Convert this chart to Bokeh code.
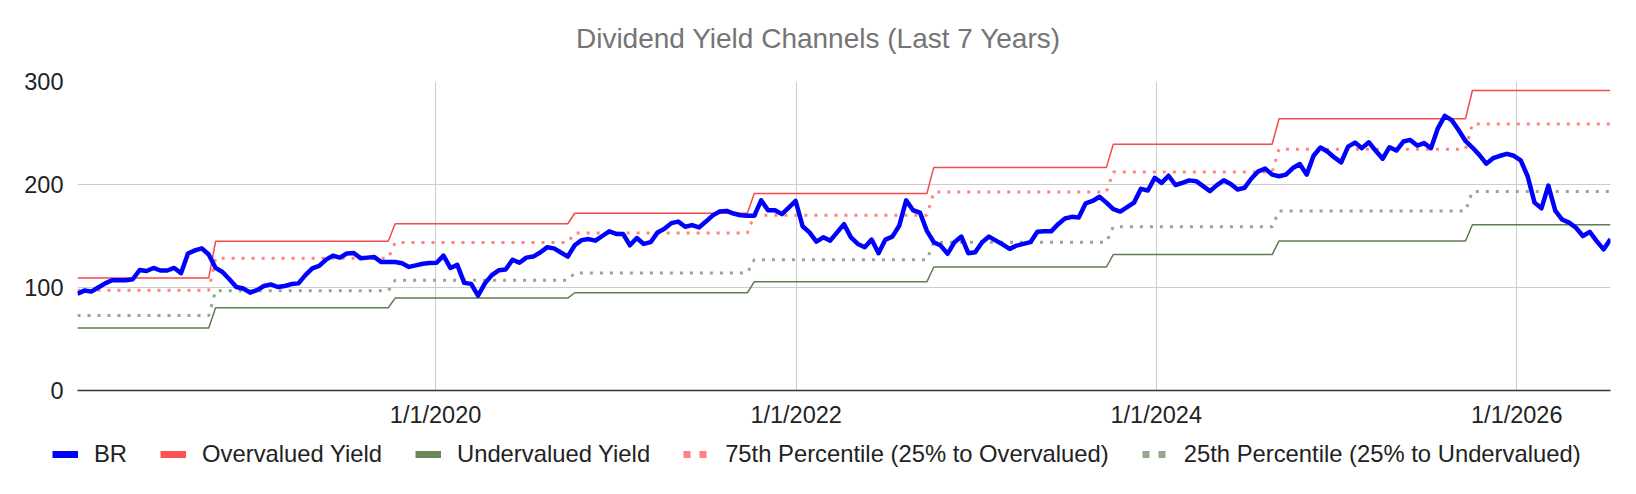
import numpy as np
import pandas as pd
from bokeh.plotting import figure
from bokeh.layouts import column, row
from bokeh.models import (ColumnDataSource, Range1d, FixedTicker, CustomJSTickFormatter,
                          Legend, LegendItem, Label)
from bokeh.embed import file_html
from bokeh.resources import INLINE

TITLE = "Dividend Yield Channels (Last 7 Years)"
START_DATE = "2018-01-05"   # biweekly observations

br_values = [
    94, 97, 96, 100, 104, 107, 107, 107, 108, 117,
    116, 119, 116.5, 116.5, 119, 114, 133, 136, 138, 132,
    119, 115, 108, 100.5, 99, 95, 97.5, 101.5, 103, 100.5,
    101.5, 103.3, 104, 112, 118.5, 121, 127, 131, 129, 133,
    133.5, 128.5, 129, 129.5, 124.7, 124.7, 124.7, 123.5, 120, 121.5,
    123, 123.7, 124, 131, 119, 122, 104.5, 103.5, 92, 104,
    112, 116.7, 117.5, 127, 124, 129, 130, 134, 139, 138,
    134, 130, 141, 146, 147, 145.5, 150, 154.5, 152, 152,
    141, 148, 142.3, 144, 153.5, 157, 162.5, 164, 159, 160.6,
    158.3, 164, 170, 173.7, 174.4, 171.8, 170.2, 169.6, 169.6, 184.6,
    175, 175, 171.2, 177.6, 184, 159.5, 153.5, 144.5, 148.7, 145.5,
    153.5, 161.5, 148.7, 142.3, 139.1, 146.5, 133.3, 146.5, 149.4, 160,
    184.6, 175, 172.8, 155, 144, 140.7, 132.7, 144, 149.4, 133.3,
    134.3, 144, 149.4, 145.5, 141.7, 137.5, 140.7, 142.3, 144, 154.2,
    154.5, 154.5, 161.5, 167, 168.6, 168, 181.7, 184, 188.1, 182.4,
    176, 173.7, 178, 182.4, 195.8, 194.2, 206.4, 201.6, 208.5, 199.5,
    201.6, 204, 203.2, 198.4, 193.6, 199.4, 204, 200.6, 195.2, 196.8,
    205.8, 212.8, 215.4, 209.6, 208, 209.6, 216, 219.9, 209.6, 227.9,
    235.9, 232, 226.3, 221.5, 236.8, 240.7, 235.3, 241, 232.7, 225,
    236.2, 233, 241.7, 243.3, 237.8, 240.2, 235.3, 254.5, 266.7, 262.5,
    252.9, 242.3, 235.9, 228.8, 220.2, 225.6, 227.9, 229.8, 227.9, 223.4,
    208, 182.4, 176.9, 199, 174.6, 166, 163, 158, 150, 154,
    145, 137, 147,
]

level_start_dates = ["2018-01-05", "2018-10-12", "2019-10-11", "2020-10-09", "2021-10-08",
                     "2022-10-07", "2023-10-06", "2024-09-06", "2025-10-03"]
overvalued_levels = [109.3, 144.9, 161.9, 172.1, 191.3, 216.6, 239.1, 263.8, 291.3]
p75_levels = [97.4, 128.5, 143.6, 152.9, 170.2, 192.6, 212.2, 234.3, 258.7]
p25_levels = [72.8, 96.8, 107.0, 114.1, 126.9, 143.9, 159.0, 174.3, 193.3]
undervalued_levels = [60.6, 80.4, 89.7, 94.9, 105.5, 119.9, 132.0, 145.2, 160.9]

x_tick_dates = ["2020-01-01", "2022-01-01", "2024-01-01", "2026-01-01"]
y_ticks = [0, 100, 200, 300]

series_names = ["BR", "Overvalued Yield", "Undervalued Yield",
                "75th Percentile (25% to Overvalued)", "25th Percentile (25% to Undervalued)"]
FONT = "Liberation Sans"
W = 1636
LEFT, RIGHT = 77, 26

RED = "#f24b4b"
GREEN = "#5f7d52"
PINK = "#ff8383"
SAGE = "#94a88b"
BLUE = "#0000ff"

dates = pd.date_range(START_DATE, periods=len(br_values), freq="14D")
seg = np.searchsorted(pd.to_datetime(level_start_dates).values, dates.values, side="right") - 1
src = ColumnDataSource(dict(
    date=dates,
    br=br_values,
    over=np.array(overvalued_levels)[seg],
    under=np.array(undervalued_levels)[seg],
    p75=np.array(p75_levels)[seg],
    p25=np.array(p25_levels)[seg],
))


def blank_fig(height, left, right):
    f = figure(width=W, height=height, output_backend="svg", toolbar_location=None,
               x_range=Range1d(left, W - right), y_range=Range1d(0, height),
               x_axis_location=None, y_axis_location=None,
               min_border_left=left, min_border_right=right,
               min_border_top=0, min_border_bottom=0)
    f.grid.visible = False
    f.outline_line_color = None
    return f


# ---- header with title ----
HEAD_H = 60
head = blank_fig(HEAD_H, LEFT, RIGHT)
head.add_layout(Label(x=W / 2, y=HEAD_H - 38, text=TITLE, text_align="center",
                      text_baseline="middle", text_font=FONT, text_font_size="28px",
                      text_color="#757575"))

# ---- main chart ----
MAIN_H = 370
p = figure(width=W, height=MAIN_H, x_axis_type="datetime", output_backend="svg",
           toolbar_location=None,
           x_range=Range1d(dates[0].to_pydatetime(), dates[-1].to_pydatetime()),
           y_range=Range1d(0, 300),
           min_border_left=LEFT, min_border_right=RIGHT, min_border_top=21, min_border_bottom=37)
p.outline_line_color = None

tick_ms = [pd.Timestamp(d).value / 1e6 for d in x_tick_dates]
p.xaxis.ticker = FixedTicker(ticks=tick_ms)
p.xaxis.formatter = CustomJSTickFormatter(code="""
const d = new Date(tick);
return (d.getUTCMonth() + 1) + "/" + d.getUTCDate() + "/" + d.getUTCFullYear();
""")
p.yaxis.ticker = FixedTicker(ticks=y_ticks)
for ax in (p.xaxis, p.yaxis):
    ax.major_tick_line_color = None
    ax.minor_tick_line_color = None
    ax.major_label_text_font = FONT
    ax.major_label_text_font_size = "23.5px"
    ax.major_label_text_color = "#222222"
p.xaxis.axis_line_color = "#333333"
p.xaxis.axis_line_width = 1.5
p.xaxis.major_label_standoff = 5
p.yaxis.axis_line_color = None
p.yaxis.major_label_standoff = 8

p.xgrid.grid_line_color = "#cccccc"
p.ygrid.grid_line_color = "#cccccc"

p.line("date", "over", source=src, line_color=RED, line_width=1.5)
p.line("date", "under", source=src, line_color=GREEN, line_width=1.5)
p.line("date", "p75", source=src, line_color=PINK, line_width=3, line_dash="3 7")
p.line("date", "p25", source=src, line_color=SAGE, line_width=3, line_dash="3 7")
p.line("date", "br", source=src, line_color=BLUE, line_width=4.5, line_join="round")

# ---- legend strip ----
LEG_H = 494 - HEAD_H - MAIN_H
LEG_LEFT = 50
leg = blank_fig(LEG_H, LEG_LEFT, 0)
nan_src = dict(x=[0.0], y=[float("nan")])
sw = [
    leg.line(x="x", y="y", source=ColumnDataSource(nan_src), line_color=BLUE, line_width=7),
    leg.line(x="x", y="y", source=ColumnDataSource(nan_src), line_color="#ff5252", line_width=7),
    leg.line(x="x", y="y", source=ColumnDataSource(nan_src), line_color="#6a8759", line_width=7),
    leg.line(x="x", y="y", source=ColumnDataSource(nan_src), line_color=PINK, line_width=7,
             line_dash="7 9"),
    leg.line(x="x", y="y", source=ColumnDataSource(nan_src), line_color=SAGE, line_width=7,
             line_dash="7 9"),
]
legend = Legend(items=[LegendItem(label=n, renderers=[r]) for n, r in zip(series_names, sw)],
                orientation="horizontal", location=(52 - LEG_LEFT, LEG_H - 26 - 12))
legend.glyph_width = 26
legend.glyph_height = 24
legend.label_height = 24
legend.label_standoff = 16
legend.spacing = 33
legend.padding = 0
legend.margin = 0
legend.border_line_color = None
legend.background_fill_alpha = 0
legend.label_text_font = FONT
legend.label_text_font_size = "23.8px"
legend.label_text_color = "#222222"
leg.add_layout(legend, "center")

layout = column(head, p, row(leg, spacing=0), spacing=0)
open("out.html", "w").write(file_html(layout, INLINE))
